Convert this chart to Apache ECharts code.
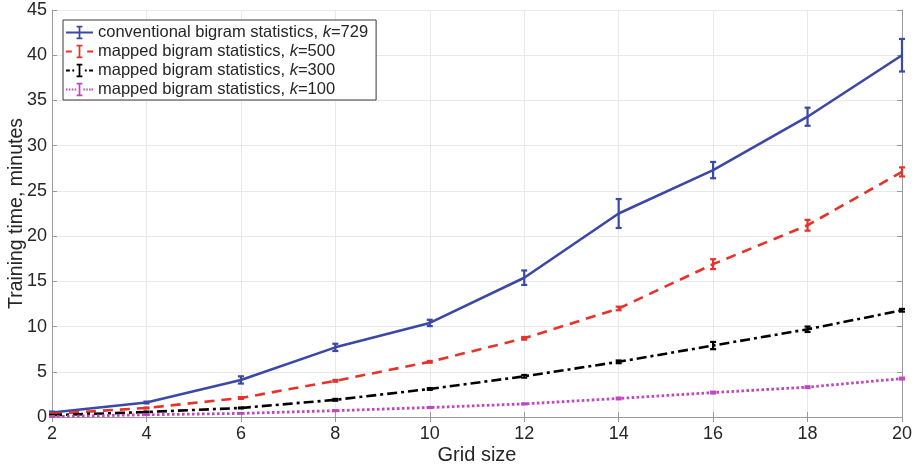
<!DOCTYPE html>
<html>
<head>
<meta charset="utf-8">
<script src="https://cdn.jsdelivr.net/npm/echarts@6/dist/echarts.min.js"></script>
<style>
  html, body { margin: 0; padding: 0; background: #fff; }
  #chart { width: 916px; height: 470px; }
</style>
</head>
<body>
<div id="chart"></div>
<script>
// Training time (minutes) against grid size, mean and error half-width
const gridSizes = [2, 4, 6, 8, 10, 12, 14, 16, 18, 20];

const conv729 = [0.5, 1.6, 4.1, 7.7, 10.4, 15.4, 22.5, 27.3, 33.2, 40.0];
const conv729Err = [0.1, 0.1, 0.4, 0.4, 0.35, 0.8, 1.6, 0.9, 1.0, 1.8];

const mapped500 = [0.35, 1.0, 2.1, 4.0, 6.1, 8.7, 12.0, 16.9, 21.2, 27.1];
const mapped500Err = [0.05, 0.05, 0.1, 0.1, 0.1, 0.15, 0.2, 0.55, 0.6, 0.5];

const mapped300 = [0.2, 0.55, 1.0, 1.9, 3.1, 4.5, 6.1, 7.9, 9.7, 11.8];
const mapped300Err = [0.03, 0.05, 0.05, 0.1, 0.1, 0.15, 0.15, 0.4, 0.3, 0.15];

const mapped100 = [0.05, 0.25, 0.4, 0.7, 1.05, 1.45, 2.05, 2.7, 3.3, 4.25];
const mapped100Err = [0.02, 0.02, 0.03, 0.05, 0.05, 0.05, 0.1, 0.1, 0.1, 0.1];

const xTicks = [2, 4, 6, 8, 10, 12, 14, 16, 18, 20];
const yTicks = [0, 5, 10, 15, 20, 25, 30, 35, 40, 45];

const seriesNames = [
  'conventional bigram statistics, k=729',
  'mapped bigram statistics, k=500',
  'mapped bigram statistics, k=300',
  'mapped bigram statistics, k=100'
];

const FONT = '"Liberation Sans", Arial, Helvetica, sans-serif';
const TEXT = '#262626';
const AXIS = '#9a9a9a';

// Legend glyphs: line pattern with an error-bar "I" in the middle (28 x 14 box)
const beam = 'M11 0h6v1.8h-6z M13.1 0h1.8v14h-1.8z M11 12.2h6v1.8h-6z';
const iconSolid = 'path://M0 6h28v2H0z ' + beam;
const iconDashed = 'path://M0 6h6v2H0z M22 6h6v2h-6z ' + beam;
const iconDashDot = 'path://M0 6h4v2H0z M6.5 6h2v2h-2z M19.5 6h2v2h-2z M24 6h4v2h-4z ' + beam;
const iconDotted = 'path://M0 6h1.6v2H0z M3 6h1.6v2H3z M6 6h1.6v2H6z M9 6h1.6v2H9z M18 6h1.6v2h-1.6z M21 6h1.6v2h-1.6z M24 6h1.6v2h-1.6z M26.4 6h1.6v2h-1.6z ' + beam;

const styles = [
  { values: conv729, errs: conv729Err, color: '#3b48a6', dash: 'solid', width: 2.6, icon: iconSolid },
  { values: mapped500, errs: mapped500Err, color: '#e5332a', dash: [10, 7], width: 2.6, icon: iconDashed },
  { values: mapped300, errs: mapped300Err, color: '#000000', dash: [10, 4, 3, 4], width: 2.6, icon: iconDashDot },
  { values: mapped100, errs: mapped100Err, color: '#c046c0', dash: [2.6, 2.4], width: 2.8, icon: iconDotted }
];

function errorBarRenderer(color) {
  return function (params, api) {
    const x = api.value(0);
    const top = api.coord([x, api.value(2)]);
    const bot = api.coord([x, api.value(1)]);
    const hw = 3;
    const st = { stroke: color, lineWidth: 2.2 };
    return {
      type: 'group',
      children: [
        { type: 'line', shape: { x1: top[0], y1: top[1], x2: bot[0], y2: bot[1] }, style: st },
        { type: 'line', shape: { x1: top[0] - hw, y1: top[1], x2: top[0] + hw, y2: top[1] }, style: st },
        { type: 'line', shape: { x1: bot[0] - hw, y1: bot[1], x2: bot[0] + hw, y2: bot[1] }, style: st }
      ]
    };
  };
}

const series = [];
styles.forEach(function (s, i) {
  series.push({
    name: seriesNames[i],
    type: 'line',
    data: gridSizes.map(function (g, j) { return [g, s.values[j]]; }),
    showSymbol: false,
    symbol: 'none',
    color: s.color,
    lineStyle: { color: s.color, width: s.width, type: s.dash },
    silent: true,
    z: 3 + i
  });
  series.push({
    name: seriesNames[i],
    type: 'custom',
    renderItem: errorBarRenderer(s.color),
    data: gridSizes.map(function (g, j) { return [g, s.values[j] - s.errs[j], s.values[j] + s.errs[j]]; }),
    encode: { x: 0, y: [1, 2] },
    silent: true,
    z: 3 + i
  });
});

const chart = echarts.init(document.getElementById('chart'), null, { renderer: 'canvas' });

chart.setOption({
  backgroundColor: '#ffffff',
  animation: false,
  textStyle: { fontFamily: FONT },
  grid: { left: 52, right: 14, top: 10, bottom: 53, containLabel: false, outerBoundsMode: 'none' },
  legend: {
    orient: 'vertical',
    left: 63,
    top: 20,
    padding: [4, 8, 2, 3],
    itemGap: 2,
    itemWidth: 27,
    itemHeight: 14,
    backgroundColor: '#ffffff',
    borderColor: '#3a3a3a',
    borderWidth: 1,
    borderRadius: 0,
    selectedMode: false,
    data: seriesNames.map(function (n, i) { return { name: n, icon: styles[i].icon }; }),
    formatter: function (name) {
      const k = name.indexOf('k=');
      return '{t|' + name.slice(0, k) + '}{i|k}{t|' + name.slice(k + 1) + '}';
    },
    textStyle: {
      fontFamily: FONT,
      color: TEXT,
      fontSize: 16.5,
      rich: {
        t: { fontFamily: FONT, fontSize: 16.5, color: TEXT },
        i: { fontFamily: FONT, fontSize: 16.5, color: TEXT, fontStyle: 'italic' }
      }
    }
  },
  xAxis: [
    {
      type: 'value',
      min: xTicks[0],
      max: xTicks[xTicks.length - 1],
      interval: 2,
      name: 'Grid size',
      nameLocation: 'middle',
      nameGap: 28,
      nameMoveOverlap: false,
      nameTextStyle: { fontSize: 20, color: TEXT, fontFamily: FONT },
      axisLine: { show: true, lineStyle: { color: AXIS, width: 1 } },
      axisTick: { show: true, inside: true, length: 5, lineStyle: { color: AXIS } },
      axisLabel: { fontSize: 18, color: TEXT, margin: 8, fontFamily: FONT },
      splitLine: { show: true, lineStyle: { color: '#e9e9e9', width: 1 } }
    },
    {
      type: 'value',
      position: 'top',
      min: xTicks[0],
      max: xTicks[xTicks.length - 1],
      interval: 2,
      axisLine: { show: true, lineStyle: { color: AXIS, width: 1 } },
      axisTick: { show: true, inside: true, length: 5, lineStyle: { color: AXIS } },
      axisLabel: { show: false },
      splitLine: { show: false }
    }
  ],
  yAxis: [
    {
      type: 'value',
      min: yTicks[0],
      max: yTicks[yTicks.length - 1],
      interval: 5,
      name: 'Training time, minutes',
      nameLocation: 'middle',
      nameGap: 25,
      nameMoveOverlap: false,
      nameTextStyle: { fontSize: 19.5, color: TEXT, fontFamily: FONT },
      axisLine: { show: true, lineStyle: { color: AXIS, width: 1 } },
      axisTick: { show: true, inside: true, length: 5, lineStyle: { color: AXIS } },
      axisLabel: { fontSize: 18, color: TEXT, margin: 5, fontFamily: FONT },
      splitLine: { show: true, lineStyle: { color: '#e9e9e9', width: 1 } }
    },
    {
      type: 'value',
      position: 'right',
      min: yTicks[0],
      max: yTicks[yTicks.length - 1],
      interval: 5,
      axisLine: { show: true, lineStyle: { color: AXIS, width: 1 } },
      axisTick: { show: true, inside: true, length: 5, lineStyle: { color: AXIS } },
      axisLabel: { show: false },
      splitLine: { show: false }
    }
  ],
  series: series
});
</script>
</body>
</html>
